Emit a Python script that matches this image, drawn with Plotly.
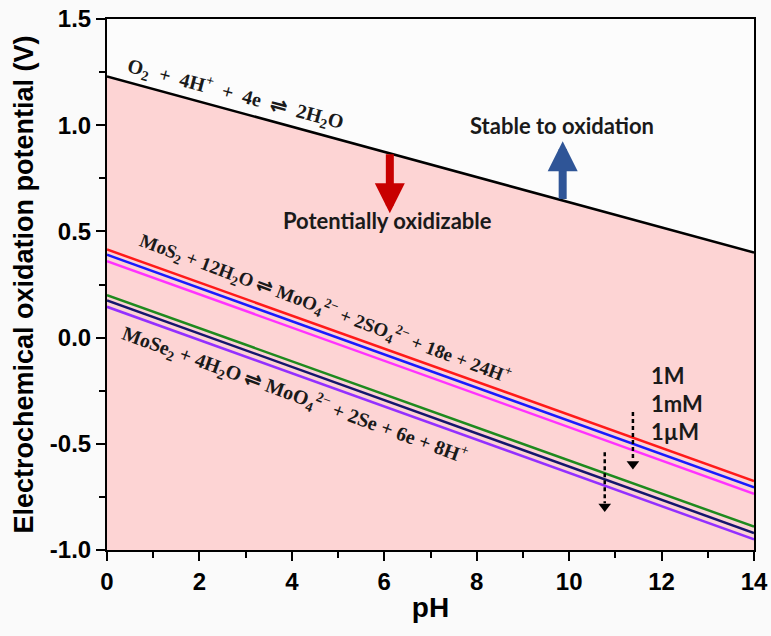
import plotly.graph_objects as go

# ---- data ----
ph = [0, 14]
e_o2 = [1.23, 0.40]
mos2_1M = [0.415, -0.675]
mos2_1mM = [0.39, -0.705]
mos2_1uM = [0.36, -0.735]
mose2_1M = [0.20, -0.89]
mose2_1mM = [0.175, -0.92]
mose2_1uM = [0.145, -0.95]
y_floor = [-1.0, -1.0]

x_ticks = [0, 2, 4, 6, 8, 10, 12, 14]
y_ticks = [-1.0, -0.5, 0.0, 0.5, 1.0, 1.5]
y_tick_text = ["-1.0", "-0.5", "0.0", "0.5", "1.0", "1.5"]
conc_labels = ["1M", "1mM", "1µM"]
conc_label_y = [-0.18, -0.31, -0.44]

fig = go.Figure()

# pink region under the O2 line
fig.add_trace(go.Scatter(x=ph, y=y_floor, mode="lines", line=dict(width=0),
                         showlegend=False, hoverinfo="skip"))
fig.add_trace(go.Scatter(x=ph, y=e_o2, mode="lines", fill="tonexty",
                         fillcolor="#FDD4D4", line=dict(color="black", width=2.5),
                         showlegend=False))

series = [
    (mos2_1M, "#FF1A1A"), (mos2_1mM, "#1A1AFF"), (mos2_1uM, "#FF33FF"),
    (mose2_1M, "#1E8A1E"), (mose2_1mM, "#16166E"), (mose2_1uM, "#9430FF"),
]
for ys, col in series:
    fig.add_trace(go.Scatter(x=ph, y=ys, mode="lines",
                             line=dict(color=col, width=2.5), showlegend=False))

# dotted concentration arrows
for xv, y0, y1 in [(11.38, -0.35, -0.61), (10.77, -0.54, -0.81)]:
    fig.add_trace(go.Scatter(x=[xv, xv], y=[y0, y1 + 0.03], mode="lines",
                             line=dict(color="black", width=2.5, dash="4px,3px"),
                             showlegend=False))
    fig.add_trace(go.Scatter(x=[xv], y=[y1 + 0.015], mode="markers",
                             marker=dict(symbol="triangle-down", size=11, color="black"),
                             showlegend=False))

eq_font = dict(family="Liberation Serif", size=19, color="#1a1a1a", weight="bold")
sans_font = dict(family="Lato", size=22, color="#1a1a1a", weight="bold")
sp = "&nbsp;&nbsp;"

annotations = [
    dict(x=2.77, y=1.145,
         text=f"O<sub>2</sub>{sp}+{sp}4H<sup>+</sup>{sp}+{sp}4e{sp}⇌{sp}2H<sub>2</sub>O",
         textangle=15, font=dict(eq_font, size=20)),
    dict(x=4.72, y=0.135,
         text="MoS<sub>2</sub> + 12H<sub>2</sub>O ⇌ MoO<sub>4</sub><sup>2−</sup> + 2SO<sub>4</sub><sup>2−</sup> + 18e + 24H<sup>+</sup>",
         textangle=20.5, font=eq_font),
    dict(x=4.05, y=-0.27,
         text="MoSe<sub>2</sub> + 4H<sub>2</sub>O ⇌ MoO<sub>4</sub><sup>2−</sup> + 2Se + 6e + 8H<sup>+</sup>",
         textangle=20, font=dict(eq_font, size=20)),
    dict(x=9.85, y=1.0, text="Stable to oxidation", font=sans_font),
    dict(x=6.08, y=0.55, text="Potentially oxidizable", font=sans_font),
]
for a in annotations:
    a.update(xref="x", yref="y", showarrow=False, xanchor="center", yanchor="middle")
    fig.add_annotation(**a)

for lab, yv in zip(conc_labels, conc_label_y):
    fig.add_annotation(x=11.72, y=yv, text=lab, showarrow=False, xanchor="left",
                       yanchor="middle", font=dict(family="Lato", size=22,
                                                   color="#1a1a1a", weight="bold"))

# thick arrows
fig.add_annotation(x=6.12, y=0.585, ax=6.12, ay=0.87, xref="x", yref="y",
                   axref="x", ayref="y", text="", showarrow=True, arrowhead=2,
                   arrowsize=0.75, arrowwidth=8, arrowcolor="#C80000")
fig.add_annotation(x=9.86, y=0.925, ax=9.86, ay=0.645, xref="x", yref="y",
                   axref="x", ayref="y", text="", showarrow=True, arrowhead=2,
                   arrowsize=0.75, arrowwidth=8, arrowcolor="#2F5597")

axis_font = dict(family="Liberation Sans", size=24, color="black", weight="bold")
fig.update_xaxes(range=[0, 14], tickvals=x_ticks, ticks="outside", ticklen=9,
                 tickwidth=2, tickcolor="black", showline=True, linecolor="black",
                 linewidth=2, mirror=True, showgrid=False, zeroline=False,
                 tickfont=axis_font, automargin=False,
                 minor=dict(dtick=1, ticks="outside", ticklen=6, tickwidth=2,
                            tickcolor="black"),
                 title=dict(text="pH", font=dict(family="Liberation Sans", size=28,
                                                 color="black", weight="bold"),
                            standoff=4))
fig.update_yaxes(range=[-1.0, 1.5], tickvals=y_ticks, ticktext=y_tick_text,
                 ticks="outside", ticklen=9, tickwidth=2, tickcolor="black",
                 showline=True, linecolor="black", linewidth=2, mirror=True,
                 showgrid=False, zeroline=False, tickfont=axis_font, automargin=False,
                 minor=dict(dtick=0.25, ticks="outside", ticklen=6, tickwidth=2,
                            tickcolor="black"),
                 title=dict(text="Electrochemical oxidation potential (V)",
                            font=dict(family="Liberation Sans", size=27,
                                      color="black", weight="bold"),
                            standoff=8))

fig.update_layout(width=771, height=636, margin=dict(l=107, r=17, t=19, b=86),
                  paper_bgcolor="#FAFAFA", plot_bgcolor="#FCFCFC", showlegend=False)

fig.write_html("out.html", config={"displayModeBar": False},
               post_script="document.body.style.margin='0';")
